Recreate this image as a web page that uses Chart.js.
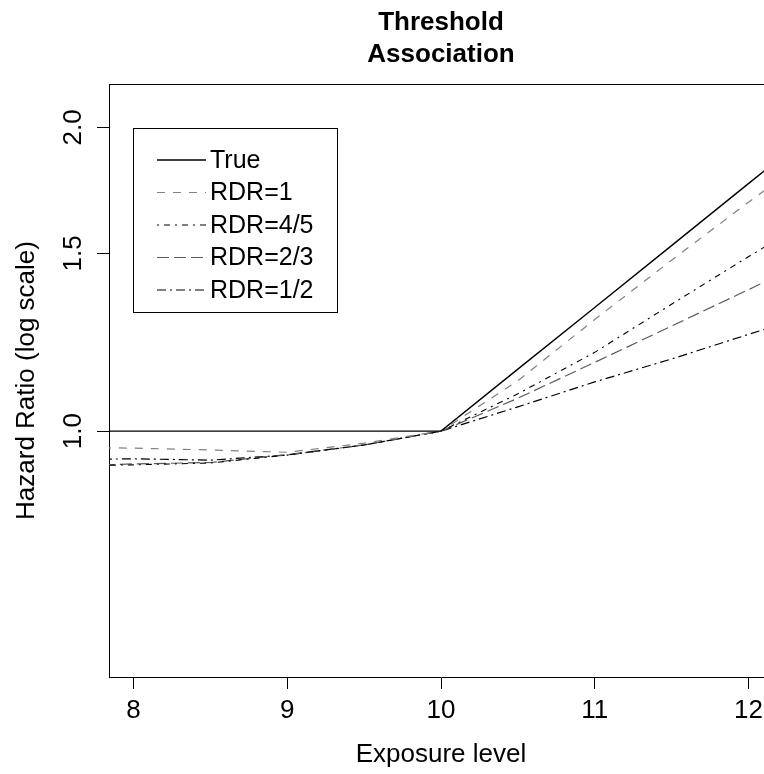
<!DOCTYPE html>
<html>
<head>
<meta charset="utf-8">
<script src="https://cdn.jsdelivr.net/npm/chart.js@4"></script>
<style>
html,body{margin:0;padding:0;background:#fff;overflow:hidden;}
canvas{display:block;}
</style>
</head>
<body>
<canvas id="c" width="800" height="774"></canvas>
<script>
// ---- data ----
const exposure = [7.8, 8, 8.5, 9, 9.5, 10, 10.5, 11, 11.5, 12, 12.2];
const hrTrue  = [1, 1, 1, 1, 1, 1, 1.152, 1.326, 1.527, 1.759, 1.861];
const hrRDR1  = [0.963, 0.962, 0.958, 0.953, 0.973, 1, 1.122, 1.290, 1.477, 1.686, 1.774];
const hrRDR45 = [0.925, 0.926, 0.930, 0.947, 0.969, 1, 1.089, 1.197, 1.336, 1.489, 1.553];
const hrRDR23 = [0.926, 0.928, 0.931, 0.948, 0.969, 1, 1.078, 1.170, 1.271, 1.381, 1.428];
const hrRDR12 = [0.938, 0.939, 0.936, 0.947, 0.969, 1, 1.057, 1.119, 1.179, 1.247, 1.275];
const seriesLabels = ["True", "RDR=1", "RDR=4/5", "RDR=2/3", "RDR=1/2"];
const xTicks = [8, 9, 10, 11, 12];
const yTicks = [1.0, 1.5, 2.0];
const titleLines = ["Threshold", "Association"];
const xTitle = "Exposure level";
const yTitle = "Hazard Ratio (log scale)";

const FONT = '"Liberation Sans", Arial, Helvetica, sans-serif';
const styles = [
  {color: '#000000', dash: [], width: 1.4},
  {color: '#808080', dash: [8, 8], width: 1.2},
  {color: '#000000', dash: [2, 5, 6, 5], width: 1.1},
  {color: '#5a5a5a', dash: [12, 5], width: 1.2},
  {color: '#000000', dash: [9, 4, 2, 4], width: 1.2}
];
const allSeries = [hrTrue, hrRDR1, hrRDR45, hrRDR23, hrRDR12];

const datasets = allSeries.map((vals, i) => ({
  label: seriesLabels[i],
  data: exposure.map((x, j) => ({x: x, y: vals[j]})),
  borderColor: styles[i].color,
  borderDash: styles[i].dash,
  borderWidth: styles[i].width,
  pointRadius: 0,
  fill: false,
  tension: 0
}));

const decor = {
  id: 'decor',
  afterDraw(chart) {
    const ctx = chart.ctx;
    const a = chart.chartArea;
    const ys = chart.scales.y;
    ctx.save();
    // box top and right
    ctx.strokeStyle = '#000';
    ctx.lineWidth = 1;
    ctx.beginPath();
    ctx.moveTo(a.left, Math.round(a.top) + 0.5);
    ctx.lineTo(a.right, Math.round(a.top) + 0.5);
    ctx.lineTo(a.right, a.bottom);
    ctx.stroke();
    // title
    ctx.fillStyle = '#000';
    ctx.textAlign = 'center';
    ctx.textBaseline = 'alphabetic';
    ctx.font = 'bold 26px ' + FONT;
    const cx = (a.left + a.right) / 2;
    ctx.fillText(titleLines[0], cx, 30);
    ctx.fillText(titleLines[1], cx, 61.5);
    // x title
    ctx.font = '26px ' + FONT;
    ctx.textBaseline = 'middle';
    ctx.fillText(xTitle, cx, 755);
    // y title
    ctx.save();
    ctx.translate(27, (a.top + a.bottom) / 2);
    ctx.rotate(-Math.PI / 2);
    ctx.fillText(yTitle, 0, 0);
    ctx.restore();
    // y tick labels (rotated, as in the reference)
    ys.ticks.forEach(t => {
      const py = ys.getPixelForValue(t.value);
      ctx.save();
      ctx.translate(74, py);
      ctx.rotate(-Math.PI / 2);
      ctx.fillText(t.value.toFixed(1), 0, 0);
      ctx.restore();
    });
    // legend
    const lx = 133.5, ly = 128.5, lw = 204, lh = 184;
    ctx.strokeStyle = '#000';
    ctx.lineWidth = 1;
    ctx.setLineDash([]);
    ctx.strokeRect(lx, ly, lw, lh);
    const rowY = [160, 192.5, 225, 257.5, 290];
    ctx.textAlign = 'left';
    ctx.font = '25px ' + FONT;
    chart.data.datasets.forEach((ds, i) => {
      ctx.strokeStyle = ds.borderColor;
      ctx.lineWidth = ds.borderWidth;
      ctx.setLineDash(ds.borderDash);
      ctx.beginPath();
      ctx.moveTo(157, rowY[i]);
      ctx.lineTo(206, rowY[i]);
      ctx.stroke();
      ctx.setLineDash([]);
      ctx.fillStyle = '#000';
      ctx.fillText(ds.label, 210, rowY[i] + 1);
    });
    ctx.restore();
  }
};

new Chart(document.getElementById('c'), {
  type: 'line',
  data: {datasets: datasets},
  options: {
    responsive: false,
    animation: false,
    events: [],
    layout: {padding: {top: 84, right: 27, left: 0, bottom: 0}},
    plugins: {legend: {display: false}, title: {display: false}, tooltip: {enabled: false}},
    scales: {
      x: {
        type: 'linear',
        min: 7.84, max: 12.16,
        afterBuildTicks: s => { s.ticks = xTicks.map(v => ({value: v})); },
        afterFit: s => { s.height = 97; },
        grid: {display: true, drawOnChartArea: false, drawTicks: true, tickLength: 12, color: '#000', lineWidth: 1},
        border: {display: true, color: '#000', width: 1},
        ticks: {color: '#000', font: {family: FONT, size: 26}, padding: 6, maxRotation: 0, minRotation: 0,
                callback: v => String(v)}
      },
      y: {
        type: 'logarithmic',
        min: 0.5707, max: 2.208,
        afterBuildTicks: s => { s.ticks = yTicks.map(v => ({value: v})); },
        afterFit: s => { s.width = 109; },
        grid: {display: true, drawOnChartArea: false, drawTicks: true, tickLength: 12, color: '#000', lineWidth: 1},
        border: {display: true, color: '#000', width: 1},
        ticks: {color: 'rgba(0,0,0,0)', font: {family: FONT, size: 26}, callback: v => Number(v).toFixed(1)}
      }
    }
  },
  plugins: [decor]
});
</script>
</body>
</html>
